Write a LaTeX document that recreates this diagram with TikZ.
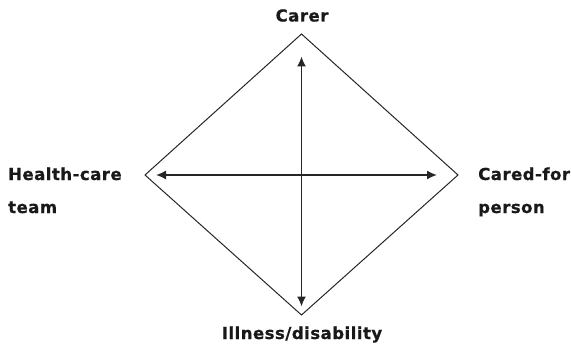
\documentclass[tikz,border=0pt]{standalone}
\usepackage{fontspec}
\setmainfont{DejaVu Sans}
\newfontfamily\lblfont[LetterSpace=3,FakeBold=0.6]{DejaVu Sans Bold}
\usetikzlibrary{arrows.meta}
\begin{document}
\begin{tikzpicture}[x=1pt,y=-1pt,
  lbl/.style={font=\lblfont\fontsize{16.5}{19}\selectfont, text=black!90, inner sep=0pt},
  edge/.style={draw=black!85, line width=1pt},
  axis/.style={draw=black!85, line width=1.6pt, {Latex[length=10pt,width=9pt]}-{Latex[length=10pt,width=9pt]}}]
\useasboundingbox (0,0) rectangle (571,345);
\coordinate (T) at (301.5,34);
\coordinate (L) at (145,175);
\coordinate (R) at (458,175);
\coordinate (B) at (301.5,315);
\draw[edge] (T) -- (R) -- (B) -- (L) -- cycle;
\coordinate (vt) at (301.5,56.5);
\coordinate (vb) at (301.5,306.5);
\coordinate (hl) at (156,175);
\coordinate (hr) at (437,175);
\draw[axis] (vt) -- (vb);
\draw[axis] (hl) -- (hr);
\node[lbl, anchor=base] (carer) at (302,21.5) {Carer};
\node[lbl, anchor=base] (ill) at (302,339) {Illness/disability};
\node[lbl, anchor=base west] (hct) at (8,180) {Health-care};
\node[lbl, anchor=base west] (hct2) at (8,213) {team};
\node[lbl, anchor=base west] (cfp) at (478,180) {Cared-for};
\node[lbl, anchor=base west] (cfp2) at (478,213) {person};
\end{tikzpicture}
\end{document}
